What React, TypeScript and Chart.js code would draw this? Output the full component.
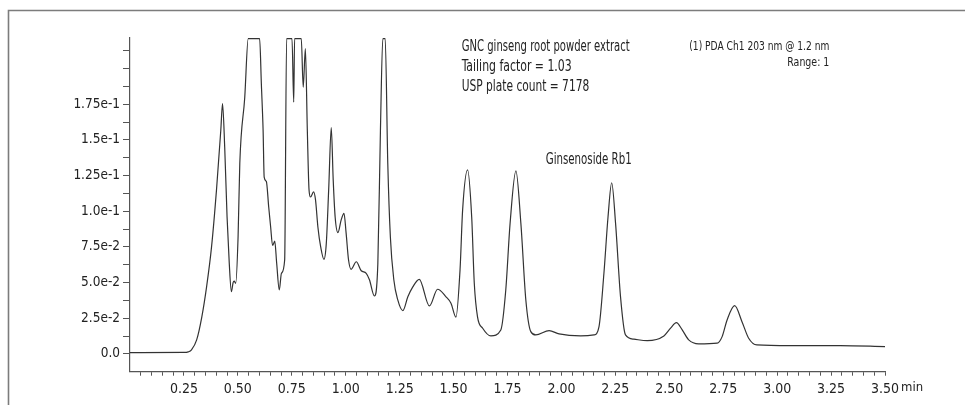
import React, { useEffect, useRef } from 'react';
import { Chart, registerables } from 'chart.js';

Chart.register(...registerables);

// Retention time (min)
const retentionTime = [
  0, 0.25, 0.27, 0.285, 0.309, 0.333, 0.355, 0.378, 0.401, 0.421, 0.429, 0.439, 0.45, 0.46, 0.47,
  0.478, 0.483, 0.49, 0.501, 0.509, 0.532, 0.548, 0.601, 0.609, 0.617, 0.622, 0.632, 0.643, 0.652,
  0.661, 0.671, 0.68, 0.692, 0.702, 0.717, 0.726, 0.751, 0.759, 0.763, 0.794, 0.803, 0.813, 0.822,
  0.83, 0.837, 0.851, 0.86, 0.871, 0.884, 0.899, 0.91, 0.921, 0.933, 0.942, 0.951, 0.964, 0.979,
  0.992, 1.002, 1.013, 1.025, 1.049, 1.072, 1.095, 1.11, 1.133, 1.149, 1.161, 1.172, 1.183, 1.195,
  1.207, 1.223, 1.241, 1.265, 1.288, 1.311, 1.341, 1.388, 1.426, 1.465, 1.488, 1.511, 1.53, 1.542,
  1.565, 1.584, 1.596, 1.611, 1.635, 1.673, 1.719, 1.742, 1.762, 1.789, 1.812, 1.835, 1.858, 1.881,
  1.943, 1.989, 2.089, 2.151, 2.174, 2.197, 2.216, 2.233, 2.251, 2.274, 2.297, 2.336, 2.398, 2.475,
  2.506, 2.533, 2.56, 2.59, 2.636, 2.722, 2.745, 2.768, 2.803, 2.837, 2.868, 2.906, 3.061, 3.292, 3.5,
];

// Absorbance (AU) at 203 nm
const absorbance = [
  0.0009, 0.001, 0.0014, 0.0028, 0.0098, 0.026, 0.047, 0.075, 0.115, 0.157, 0.1755, 0.145, 0.096, 0.064, 0.0436,
  0.05, 0.051, 0.0495, 0.082, 0.1335, 0.18, 0.221, 0.221, 0.189, 0.157, 0.124, 0.121, 0.103, 0.089,
  0.076, 0.079, 0.0635, 0.0448, 0.0565, 0.0658, 0.221, 0.221, 0.1766, 0.221, 0.221, 0.187, 0.214, 0.157,
  0.115, 0.11, 0.1136, 0.108, 0.089, 0.075, 0.0663, 0.0775, 0.115, 0.1587, 0.122, 0.096, 0.085, 0.094,
  0.0985, 0.0845, 0.066, 0.0593, 0.0646, 0.0583, 0.0565, 0.052, 0.0406, 0.0635, 0.157, 0.221, 0.221, 0.1335,
  0.082, 0.052, 0.038, 0.0303, 0.04, 0.047, 0.0523, 0.0336, 0.0453, 0.04, 0.0355, 0.0257, 0.059, 0.101,
  0.129, 0.096, 0.0495, 0.026, 0.018, 0.0126, 0.0168, 0.0448, 0.0915, 0.1283, 0.0915, 0.0378, 0.0156, 0.0133,
  0.0163, 0.014, 0.0126, 0.0133, 0.019, 0.0565, 0.096, 0.12, 0.0915, 0.04, 0.0133, 0.0103, 0.0093, 0.0126,
  0.018, 0.0219, 0.0168, 0.0098, 0.007, 0.0075, 0.0121, 0.0238, 0.0338, 0.0226, 0.011, 0.0063, 0.0058, 0.0058, 0.0051,
];

const yTickLabels = ['0.0', '2.5e-2', '5.0e-2', '7.5e-2', '1.0e-1', '1.25e-1', '1.5e-1', '1.75e-1'];
const xTickLabels = ['0.25', '0.50', '0.75', '1.00', '1.25', '1.50', '1.75', '2.00', '2.25', '2.50', '2.75', '3.00', '3.25', '3.50'];
const xUnit = 'min';

const infoLines = ['GNC ginseng root powder extract', 'Tailing factor = 1.03', 'USP plate count = 7178'];
const channelLines = ['(1) PDA Ch1 203 nm @ 1.2 nm', 'Range: 1'];
const peakLabel = 'Ginsenoside Rb1';

const FONT = "'DejaVu Sans Condensed', 'Liberation Sans Narrow', 'DejaVu Sans', sans-serif";
const TEXT = '#222222';

function drawFitted(ctx: CanvasRenderingContext2D, text: string, x: number, y: number, size: number, width: number, align: 'left' | 'right') {
  ctx.save();
  ctx.font = `${size}px ${FONT}`;
  ctx.fillStyle = TEXT;
  ctx.textBaseline = 'middle';
  ctx.textAlign = 'left';
  const w = ctx.measureText(text).width;
  const s = width / w;
  ctx.translate(align === 'right' ? x - width : x, y);
  ctx.scale(s, 1);
  ctx.fillText(text, 0, 0);
  ctx.restore();
}

const decorPlugin = {
  id: 'decor',
  beforeDraw(chart: any) {
    const ctx = chart.ctx as CanvasRenderingContext2D;
    ctx.save();
    ctx.fillStyle = '#ffffff';
    ctx.fillRect(0, 0, chart.width, chart.height);
    ctx.strokeStyle = '#7c7c7c';
    ctx.lineWidth = 1.6;
    ctx.beginPath();
    ctx.moveTo(8.5, chart.height);
    ctx.lineTo(8.5, 10.5);
    ctx.lineTo(chart.width, 10.5);
    ctx.stroke();
    ctx.restore();
  },
  afterDraw(chart: any) {
    const ctx = chart.ctx as CanvasRenderingContext2D;
    const infoWidths = [168, 110, 127.5];
    const infoY = [46.7, 66.7, 87.3];
    infoLines.forEach((t, i) => drawFitted(ctx, t, 461.7, infoY[i], 15, infoWidths[i], 'left'));
    drawFitted(ctx, channelLines[0], 829.3, 46.7, 12.5, 140, 'right');
    drawFitted(ctx, channelLines[1], 829.3, 62.7, 12.5, 42, 'right');
    drawFitted(ctx, peakLabel, 545.7, 160, 15, 86, 'left');
    ctx.save();
    ctx.font = `13px ${FONT}`;
    ctx.fillStyle = TEXT;
    ctx.textBaseline = 'middle';
    ctx.fillText(xUnit, 901, 388);
    ctx.restore();
  },
};

export default function App() {
  const ref = useRef<HTMLCanvasElement | null>(null);

  useEffect(() => {
    if (!ref.current) return;
    const points = retentionTime.map((t, i) => ({ x: t, y: absorbance[i] }));
    const chart = new Chart(ref.current, {
      type: 'line',
      data: {
        datasets: [
          {
            data: points,
            borderColor: '#333333',
            borderWidth: 1.2,
            pointRadius: 0,
            fill: false,
            cubicInterpolationMode: 'monotone',
          },
        ],
      },
      options: {
        responsive: false,
        animation: false,
        events: [],
        layout: { padding: { left: 0, top: 38, right: 80, bottom: 0 } },
        plugins: { legend: { display: false }, tooltip: { enabled: false } },
        scales: {
          x: {
            type: 'linear',
            min: 0,
            max: 3.5,
            afterFit: (s: any) => { s.height = 33.3; },
            afterBuildTicks: (s: any) => {
              const t = [];
              for (let i = 1; i <= 70; i++) t.push({ value: Math.round(i * 5) / 100 });
              s.ticks = t;
            },
            border: { display: true, color: '#555', width: 1.2 },
            grid: { drawOnChartArea: false, drawTicks: true, tickLength: 4, color: '#555', lineWidth: 1 },
            ticks: {
              autoSkip: false,
              maxRotation: 0,
              padding: 5,
              color: TEXT,
              font: { family: FONT, size: 14 },
              callback: (v: any) => {
                const i = Math.round(Number(v) / 0.05);
                return i % 5 === 0 ? xTickLabels[i / 5 - 1] : '';
              },
            },
          },
          y: {
            type: 'linear',
            min: -0.0125,
            max: 0.2215,
            afterFit: (s: any) => { s.width = 130; },
            afterBuildTicks: (s: any) => {
              const t = [];
              for (let i = 0; i <= 17; i++) t.push({ value: Math.round(i * 125) / 10000 });
              s.ticks = t;
            },
            border: { display: true, color: '#555', width: 1.2 },
            grid: { drawOnChartArea: false, drawTicks: true, tickLength: 7, color: '#555', lineWidth: 1 },
            ticks: {
              autoSkip: false,
              padding: 3,
              color: TEXT,
              font: { family: FONT, size: 13.5 },
              callback: (v: any) => {
                const i = Math.round(Number(v) / 0.0125);
                return i % 2 === 0 && i / 2 < yTickLabels.length ? yTickLabels[i / 2] : '';
              },
            },
          },
        },
      },
      plugins: [decorPlugin],
    } as any);
    return () => chart.destroy();
  }, []);

  return (
    <div style={{ position: 'fixed', left: 0, top: 0, width: 965, height: 405, background: '#fff' }}>
      <canvas ref={ref} width={965} height={405} style={{ display: 'block', width: 965, height: 405 }} />
    </div>
  );
}
